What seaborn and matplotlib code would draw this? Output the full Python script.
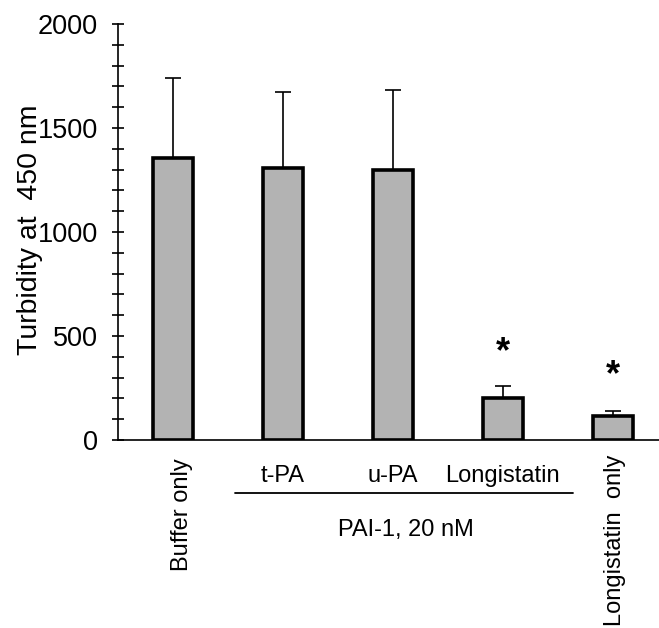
import matplotlib
matplotlib.use("Agg")
import matplotlib.pyplot as plt
import seaborn as sns
import pandas as pd

# values
groups = ["Buffer only", "t-PA", "u-PA", "Longistatin", "Longistatin  only"]
turbidity = [1355, 1310, 1300, 200, 115]
sd = [385, 365, 385, 58, 25]
star_y = [None, None, None, 420, 310]

sns.set_style("ticks")
plt.rcParams["font.family"] = ["Liberation Sans", "DejaVu Sans"]
plt.rcParams.update({"text.color": "black", "axes.labelcolor": "black",
                     "xtick.color": "black", "ytick.color": "black",
                     "axes.edgecolor": "black"})

df = pd.DataFrame({"group": groups, "turbidity": turbidity})

fig = plt.figure(figsize=(6.59, 6.28), dpi=100)
ax = fig.add_axes([0.179, 0.2994, 0.821, 0.6624])

sns.barplot(data=df, x="group", y="turbidity", color="#b3b3b3", saturation=1,
            width=0.36, edgecolor="black", linewidth=2.6, errorbar=None, ax=ax)
ax.errorbar(range(len(groups)), turbidity, yerr=[[0] * len(sd), sd], fmt="none",
            ecolor="black", elinewidth=1.2, capsize=6, capthick=1.2, zorder=1)

for i, y in enumerate(star_y):
    if y is not None:
        ax.text(i, y, "*", ha="center", va="center", fontsize=26, fontweight="bold")

ax.set_xlim(-0.5, 4.42)
ax.set_ylim(0, 2000)
ax.set_yticks([0, 500, 1000, 1500, 2000])
ax.set_yticks(range(0, 2001, 100), minor=True)
ax.tick_params(axis="y", which="both", direction="inout", length=9, width=1.2,
               labelsize=19.5, pad=10)
ax.tick_params(axis="x", length=0, labelbottom=False)
ax.set_xlabel("")
ax.set_ylabel("Turbidity at  450 nm", fontsize=20.5)
ax.yaxis.set_label_coords(-0.139, 0.505)
sns.despine(ax=ax)
for s in ["left", "bottom"]:
    ax.spines[s].set_linewidth(1.2)

# category labels under the axis
tr = ax.get_xaxis_transform()
ax.text(0.08, -0.045, groups[0], rotation=90, ha="center", va="top",
        fontsize=17, transform=tr)
ax.text(4.02, -0.036, groups[4], rotation=90, ha="center", va="top",
        fontsize=17, transform=tr)
for i in [1, 2, 3]:
    ax.text(i, -0.086, groups[i], ha="center", va="center", fontsize=17, transform=tr)
ax.plot([0.56, 3.64], [-0.127, -0.127], color="black", lw=1.3,
        transform=tr, clip_on=False)
ax.text(2.12, -0.216, "PAI-1, 20 nM", ha="center", va="center", fontsize=17, transform=tr)

fig.savefig("out.png", dpi=100)
